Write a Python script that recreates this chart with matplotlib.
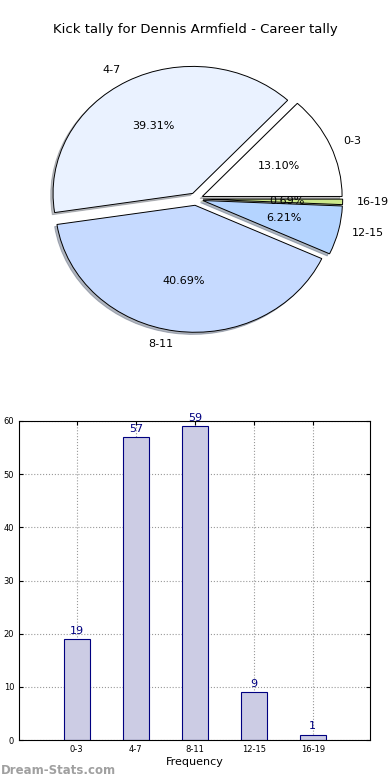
import matplotlib
matplotlib.use('Agg')
import matplotlib.pyplot as plt
import numpy as np

labels = ['0-3', '4-7', '8-11', '12-15', '16-19']
counts = [19, 57, 59, 9, 1]
pie_colors = ['#ffffff', '#eaf2ff', '#c6daff', '#b4d4ff', '#cce88a']

fig = plt.figure(figsize=(3.9, 7.8), dpi=100)
W, H = 390.0, 780.0

# pie (top)
ax1 = fig.add_axes([20 / W, 1 - 359 / H, 352 / W, 320 / H])
ax1.pie(counts, labels=labels, colors=pie_colors, autopct='%1.2f%%',
        explode=[0.05] * 5, startangle=0,
        shadow={'ox': -0.012, 'oy': -0.012, 'shade': 0.5},
        wedgeprops={'edgecolor': 'black', 'linewidth': 0.7},
        textprops={'fontsize': 8})
ax1.set_aspect('auto')
ax1.set_xlim(-1.26, 1.26)
ax1.set_ylim(-1.26, 1.26)
ax1.axis('off')
fig.text(0.5, 1 - 30 / H, 'Kick tally for Dennis Armfield - Career tally',
         ha='center', va='center', fontsize=9.5)

# bars (bottom)
ax2 = fig.add_axes([19 / W, 1 - 740 / H, 351 / W, 319 / H])
x = np.arange(len(labels))
ax2.bar(x, counts, width=0.45, color='#cccce4', edgecolor='#000080', linewidth=0.8, zorder=2)
for xi, c in zip(x, counts):
    ax2.text(xi, c + 0.6, str(c), ha='center', va='bottom', color='#000080', fontsize=8)
ax2.set_xlim(-0.98, 4.97)
ax2.set_ylim(0, 60)
ax2.set_xticks(x)
ax2.set_xticklabels(labels)
ax2.set_yticks(range(0, 61, 10))
ax2.tick_params(labelsize=6, direction='in', top=True, right=True, length=3)
ax2.grid(True, linestyle=':', color='#999999', linewidth=0.8, zorder=0)
ax2.set_axisbelow(True)
ax2.set_xlabel('Frequency', fontsize=8, labelpad=2)

fig.text(0.002, 1 - 771 / H, 'Dream-Stats.com', color='#a0a0a0', fontsize=8.5,
         fontweight='bold', ha='left', va='center')

fig.savefig('out.png', dpi=100)
